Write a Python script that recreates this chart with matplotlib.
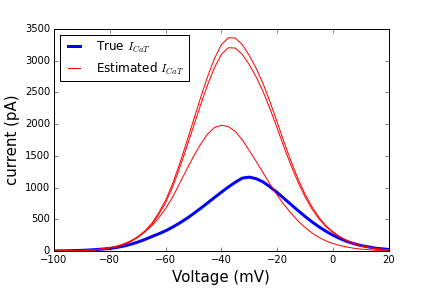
import matplotlib
matplotlib.use("Agg")
import matplotlib.pyplot as plt

plt.style.use("classic")

voltage = [-100, -95, -90, -85,
           -80, -77.5, -75, -72.5, -70, -67.5, -65, -62.5, -60,
           -57.5, -55, -52.5, -50, -47.5, -45, -42.5, -40,
           -37.5, -35, -32.5, -30, -27.5, -25, -22.5, -20,
           -17.5, -15, -12.5, -10, -7.5, -5, -2.5, 0,
           2.5, 5, 7.5, 10, 15, 20]

true_icat = [3, 6, 12, 24,
             42, 58, 80, 108, 142, 182, 228, 272, 320,
             378, 442, 512, 590, 672, 757, 843, 928,
             1010, 1085, 1150, 1165, 1140, 1088, 1010, 922,
             828, 732, 637, 546, 460, 382, 312, 250,
             197, 153, 117, 88, 48, 26]

est_1 = [2, 4, 9, 20,
         48, 72, 105, 155, 225, 315, 435, 600, 800,
         1060, 1370, 1710, 2060, 2410, 2740, 3030, 3250,
         3360, 3355, 3250, 3080, 2875, 2630, 2340, 2030,
         1710, 1410, 1135, 895, 695, 530, 400, 305,
         228, 167, 121, 86, 42, 20]

est_2 = [2, 4, 9, 19,
         46, 69, 100, 148, 214, 300, 415, 572, 762,
         1010, 1306, 1630, 1963, 2297, 2611, 2888, 3097,
         3202, 3197, 3097, 2935, 2740, 2506, 2230, 1935,
         1630, 1344, 1082, 853, 662, 505, 381, 291,
         217, 159, 115, 82, 40, 19]

est_3 = [2, 5, 10, 24,
         55, 80, 115, 162, 225, 305, 395, 520, 670,
         850, 1065, 1280, 1490, 1680, 1840, 1945, 1982,
         1960, 1885, 1750, 1585, 1410, 1230, 1050, 880,
         728, 595, 473, 372, 286, 216, 160, 120,
         88, 64, 45, 32, 15, 7]

fig = plt.figure(figsize=(6, 4), dpi=72, facecolor="white")
ax = fig.add_axes([0.125, 0.128, 0.775, 0.772])

ax.plot(voltage, true_icat, color="blue", lw=3, label=r"True $I_{CaT}$")
ax.plot(voltage, est_1, color="red", lw=1, label=r"Estimated $I_{CaT}$")
ax.plot(voltage, est_2, color="red", lw=1)
ax.plot(voltage, est_3, color="red", lw=1)

ax.set_xlim(-100, 20)
ax.set_ylim(0, 3500)
ax.set_xticks([-100, -80, -60, -40, -20, 0, 20])
ax.set_yticks([0, 500, 1000, 1500, 2000, 2500, 3000, 3500])
ax.tick_params(labelsize=10)
ax.set_xlabel("Voltage (mV)", fontsize=15)
ax.set_ylabel("current (pA)", fontsize=15)
ax.legend(loc="upper left", fontsize=12, handlelength=1.6, handletextpad=1.0)

fig.savefig("out.png", dpi=72, facecolor="white")
